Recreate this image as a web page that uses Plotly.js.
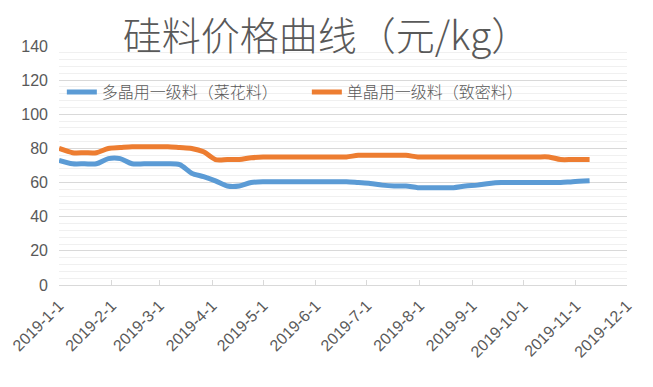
<!DOCTYPE html>
<html>
<head>
<meta charset="utf-8">
<script src="https://cdn.plot.ly/plotly-3.0.1.min.js"></script>
<style>
html,body{margin:0;padding:0;background:#fff;}
#chart{width:653px;height:387px;}
</style>
</head>
<body>
<div id="chart"></div>
<script>
// Dates of the price readings
var dates = [
  '2019-01-01','2019-01-09','2019-01-16','2019-01-23','2019-01-30',
  '2019-02-06','2019-02-13','2019-02-20','2019-02-27',
  '2019-03-06','2019-03-13','2019-03-20','2019-03-27',
  '2019-04-03','2019-04-10','2019-04-17','2019-04-24',
  '2019-05-01','2019-05-08','2019-05-15','2019-05-22','2019-05-29',
  '2019-06-05','2019-06-12','2019-06-19','2019-06-26',
  '2019-07-03','2019-07-10','2019-07-17','2019-07-24','2019-07-31',
  '2019-08-07','2019-08-14','2019-08-21','2019-08-28',
  '2019-09-04','2019-09-11','2019-09-18','2019-09-25',
  '2019-10-02','2019-10-09','2019-10-16','2019-10-23','2019-10-30',
  '2019-11-09'
];
// 多晶用一级料（菜花料）
var polyPrice = [
  73, 71, 71, 71, 74,
  74, 71, 71, 71,
  71, 70.5, 65.5, 63.5,
  61, 58, 58, 60,
  60.5, 60.5, 60.5, 60.5, 60.5,
  60.5, 60.5, 60.5, 60,
  59.5, 58.5, 58, 58, 57,
  57, 57, 57, 58,
  58.5, 59.5, 60, 60,
  60, 60, 60, 60, 60.5,
  61
];
// 单晶用一级料（致密料）
var monoPrice = [
  80, 77.5, 77.5, 77.5, 80,
  80.5, 81, 81, 81,
  81, 80.5, 80, 78,
  73.5, 73.5, 73.5, 74.5,
  75, 75, 75, 75, 75,
  75, 75, 75, 76,
  76, 76, 76, 76, 75,
  75, 75, 75, 75,
  75, 75, 75, 75,
  75, 75, 75, 73.5, 73.5,
  73.5
];
var seriesNames = ['多晶用一级料（菜花料）', '单晶用一级料（致密料）'];
var tickVals = ['2019-01-01','2019-02-01','2019-03-01','2019-04-01','2019-05-01','2019-06-01',
                '2019-07-01','2019-08-01','2019-09-01','2019-10-01','2019-11-01','2019-12-01'];
var tickText = ['2019-1-1','2019-2-1','2019-3-1','2019-4-1','2019-5-1','2019-6-1',
                '2019-7-1','2019-8-1','2019-9-1','2019-10-1','2019-11-1','2019-12-1'];
var titleText = '硅料价格曲线（元/kg）';

var cjk = '"Noto Sans CJK SC", "Noto Sans", sans-serif';
var grey = '#595959';

var traces = [
  {x: dates, y: polyPrice, name: seriesNames[0], type: 'scatter', mode: 'lines',
   line: {color: '#5B9BD5', width: 5, shape: 'spline', smoothing: 0.8}},
  {x: dates, y: monoPrice, name: seriesNames[1], type: 'scatter', mode: 'lines',
   line: {color: '#ED7D31', width: 5, shape: 'spline', smoothing: 0.8}}
];

var layout = {
  width: 653, height: 387,
  margin: {l: 59, r: 26, t: 46, b: 102},
  paper_bgcolor: '#fff', plot_bgcolor: '#fff',
  font: {family: cjk, color: grey},
  title: {text: titleText, font: {family: cjk, size: 39, color: grey, weight: 300},
          x: 0.5, xref: 'container', xanchor: 'center',
          y: 1 - 36/387, yref: 'container', yanchor: 'middle'},
  showlegend: true,
  legend: {orientation: 'h', x: 0.005, xanchor: 'left', y: 0.807, yanchor: 'middle',
           font: {family: cjk, size: 16, color: grey, weight: 300}, bgcolor: 'rgba(0,0,0,0)',
           entrywidth: 200, entrywidthmode: 'pixels', traceorder: 'normal'},
  xaxis: {type: 'date', range: ['2019-01-01', '2019-12-01'],
          tickmode: 'array', tickvals: tickVals, ticktext: tickText,
          tickangle: -45, tickfont: {family: '"Liberation Sans", Arial, sans-serif', size: 16, color: grey},
          ticklabelstandoff: 4,
          showgrid: false, showline: true, linecolor: '#d9d9d9', linewidth: 1,
          ticks: 'inside', ticklen: 5, tickcolor: '#d9d9d9', zeroline: false},
  yaxis: {range: [0, 140], dtick: 20, tick0: 0,
          tickfont: {family: '"Liberation Sans", Arial, sans-serif', size: 16, color: grey},
          showgrid: true, gridcolor: '#d9d9d9', gridwidth: 1,
          minor: {dtick: 4, showgrid: true, gridcolor: '#f0f0f0', gridwidth: 1},
          zeroline: false, showline: false, ticks: '', ticklabelstandoff: 10}
};

Plotly.newPlot('chart', traces, layout, {displayModeBar: false, staticPlot: true});
</script>
</body>
</html>
